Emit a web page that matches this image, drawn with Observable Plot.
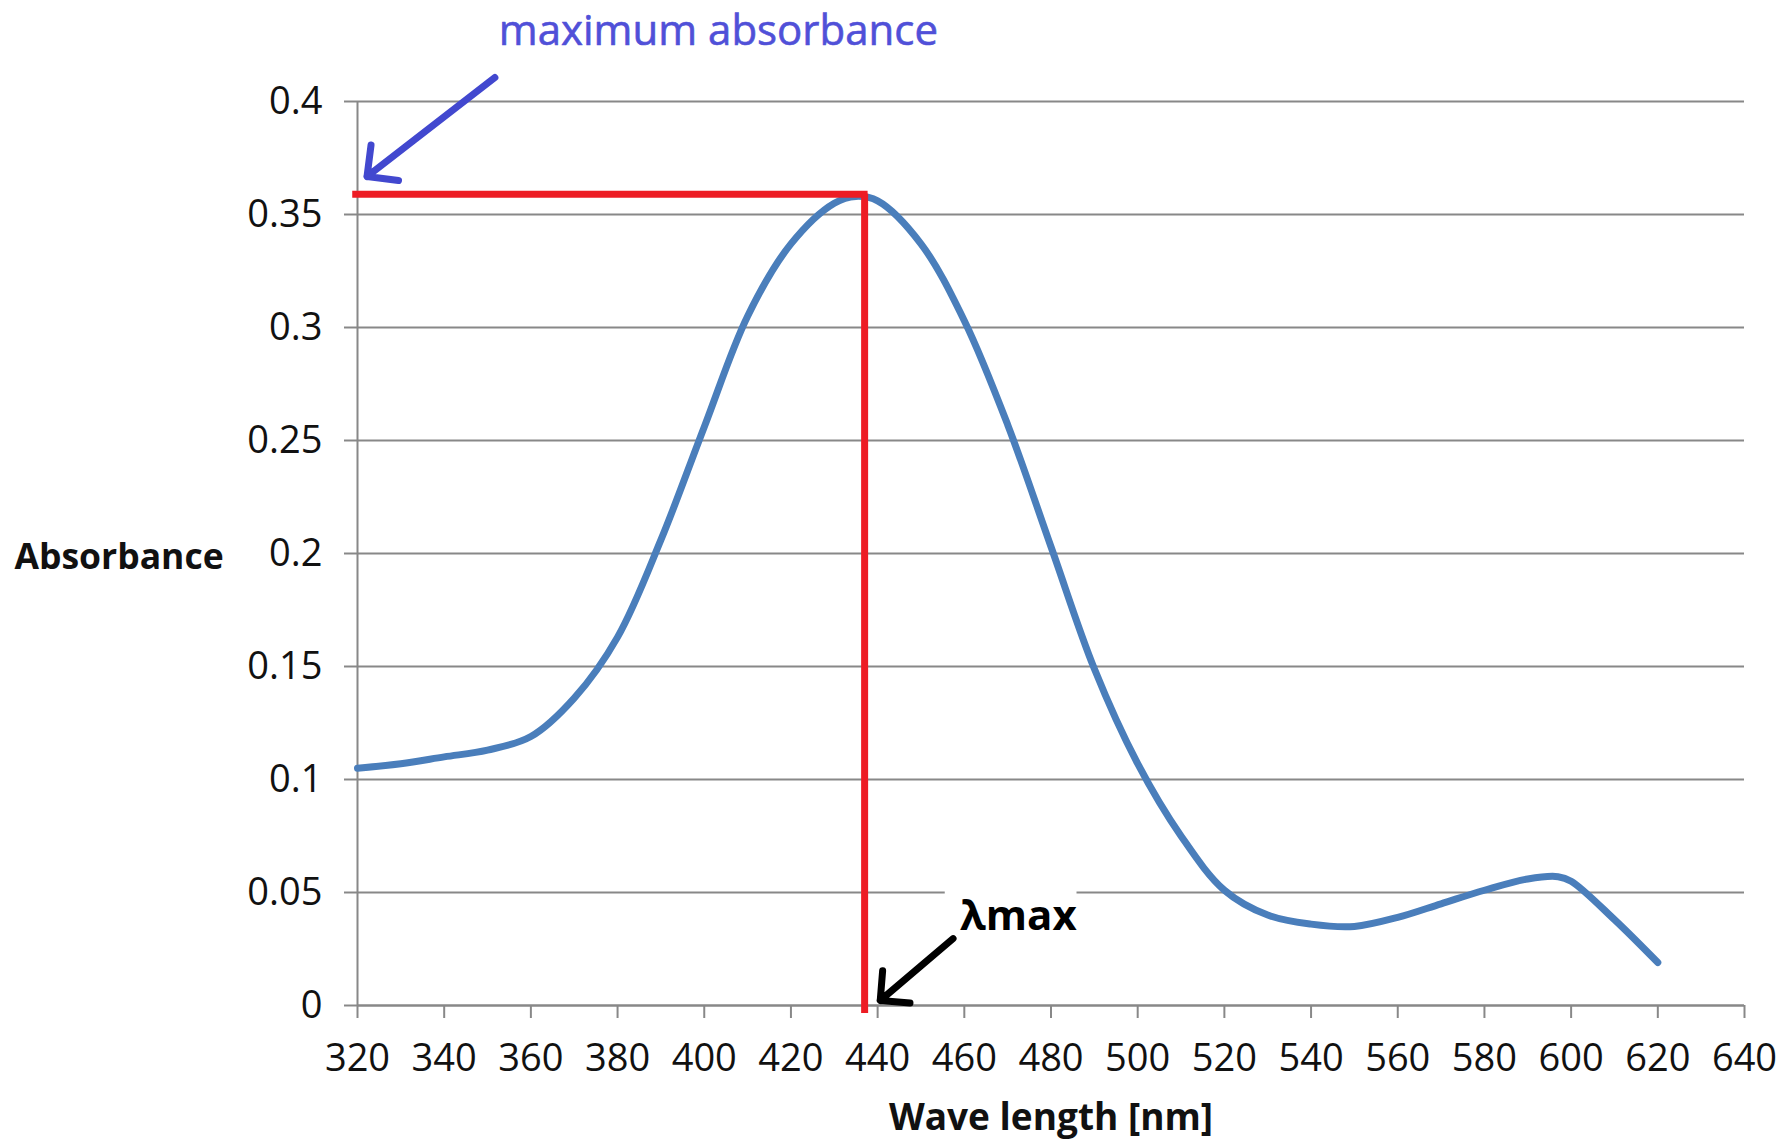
<!DOCTYPE html>
<html>
<head>
<meta charset="utf-8">
<script src="https://cdn.jsdelivr.net/npm/d3@7"></script>
<script src="https://cdn.jsdelivr.net/npm/@observablehq/plot@0.6"></script>
<style>
  html, body { margin: 0; padding: 0; background: #fff; overflow: hidden; }
  #chart svg { display: block; }
</style>
</head>
<body>
<div id="chart"></div>
<script>
// ---- data ----
const wavelength = [320, 330, 340, 350, 360, 370, 380, 390, 400, 410, 420, 430, 435, 440, 450, 460, 470, 480, 490, 500, 510, 520, 530, 540, 550, 560, 570, 580, 590, 597, 600, 610, 620];
const absorbance = [0.105, 0.107, 0.110, 0.113, 0.119, 0.136, 0.163, 0.206, 0.256, 0.305, 0.337, 0.355, 0.358, 0.356, 0.337, 0.303, 0.257, 0.203, 0.149, 0.107, 0.075, 0.051, 0.040, 0.036, 0.035, 0.039, 0.045, 0.051, 0.056, 0.057, 0.055, 0.038, 0.019];
const xTicks = [320, 340, 360, 380, 400, 420, 440, 460, 480, 500, 520, 540, 560, 580, 600, 620, 640];
const yTicks = [0, 0.05, 0.1, 0.15, 0.2, 0.25, 0.3, 0.35, 0.4];
const yTickLabels = ["0", "0.05", "0.1", "0.15", "0.2", "0.25", "0.3", "0.35", "0.4"];

// annotations (data units)
const lambdaMax = 437;
const maxAbs = 0.359;
const maxLabel = [{x: 352.6, y: 0.431, text: "maximum absorbance"}];
const maxArrow = [{x1: 351.7, y1: 0.4106, x2: 322.2, y2: 0.3668}];
const lambdaLabel = [{x: 459, y: 0.0395, text: "λmax"}];
const lambdaArrow = [{x1: 457.4, y1: 0.0296, x2: 440.6, y2: 0.0022}];
const lambdaBox = [{x1: 455.6, x2: 486, y1: 0.044, y2: 0.054}];

const data = wavelength.map((w, i) => ({w, a: absorbance[i]}));

const gridColor = "#888888";
const chart = Plot.plot({
  width: 1785,
  height: 1139,
  marginLeft: 357,
  marginRight: 41,
  marginTop: 101,
  marginBottom: 134,
  style: {fontFamily: "'Open Sans', sans-serif", fontSize: "38px", color: "#111", background: "#fff", overflow: "visible"},
  x: {domain: [320, 640]},
  y: {domain: [0, 0.4]},
  marks: [
    Plot.tickY(yTicks, {y: d => d, stroke: gridColor, strokeWidth: 2}),
    Plot.axisY(yTicks, {tickSize: 13, tickPadding: 22, stroke: gridColor, strokeWidth: 2, tickFormat: (d, i) => yTickLabels[i], label: null, fill: "#111"}),
    Plot.axisX(xTicks, {tickSize: 13, tickPadding: 26, stroke: gridColor, strokeWidth: 2, label: null, fill: "#111"}),
    Plot.ruleX([320], {y1: 0, y2: 0.4, stroke: gridColor, strokeWidth: 2}),
    Plot.ruleY([0], {stroke: gridColor, strokeWidth: 2}),
    // white patch behind the λmax label
    Plot.rect(lambdaBox, {x1: "x1", x2: "x2", y1: "y1", y2: "y2", fill: "#fff"}),
    // spectrum
    Plot.line(data, {x: "w", y: "a", stroke: "#4a7ebb", strokeWidth: 7, curve: "catmull-rom"}),
    // red marker lines
    Plot.ruleY([maxAbs], {x1: 318.9, x2: lambdaMax + 0.8, stroke: "#ed1c24", strokeWidth: 7}),
    Plot.ruleX([lambdaMax], {y1: -0.0035, y2: maxAbs, stroke: "#ed1c24", strokeWidth: 7}),
    // annotations
    Plot.text(maxLabel, {x: "x", y: "y", text: "text", textAnchor: "start", fill: "#5050d8", stroke: "#5050d8", strokeWidth: 0.6, fontSize: 42}),
    Plot.arrow(maxArrow, {x1: "x1", y1: "y1", x2: "x2", y2: "y2", stroke: "#4248cf", strokeWidth: 7, headAngle: 90, headLength: 6.8}),
    Plot.text(lambdaLabel, {x: "x", y: "y", text: "text", textAnchor: "start", fill: "#000", fontSize: 42, fontWeight: "bold"}),
    Plot.arrow(lambdaArrow, {x1: "x1", y1: "y1", x2: "x2", y2: "y2", stroke: "#000", strokeWidth: 7, headAngle: 90, headLength: 6.4}),
    // axis titles
    Plot.text(["Wave length [nm]"], {frameAnchor: "bottom", dy: 124, fontWeight: "bold", fontSize: 37, fill: "#111"}),
    Plot.text(["Absorbance"], {frameAnchor: "left", dx: -343, dy: 4, textAnchor: "start", fontWeight: "bold", fontSize: 35.5, fill: "#111"})
  ]
});
document.getElementById("chart").appendChild(chart);
</script>
</body>
</html>
